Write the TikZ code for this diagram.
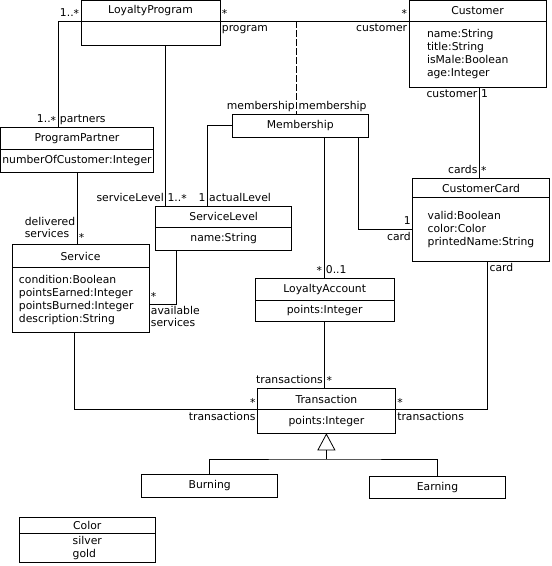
\documentclass[tikz,border=0pt]{standalone}
\usepackage{fontspec}
\setmainfont{DejaVu Sans}
\usetikzlibrary{positioning,arrows.meta}
\newcommand\mstar{\raisebox{-1.5pt}{*}}
\begin{document}
\begin{tikzpicture}[x=1pt,y=-1pt,line width=0.8pt,font=\fontsize{10.8}{13}\selectfont,
cls/.style={draw,outer sep=0pt,inner sep=0pt},
attr/.style={cls,align=left},
role/.style={inner sep=1.5pt,text height=9pt,text depth=3pt},
roles/.style={inner sep=1.5pt,align=left,font=\fontsize{10.8}{12}\selectfont}]
\useasboundingbox (0,0) rectangle (552,566);

\node[cls,minimum width=139pt,minimum height=20.5pt] (lph) at (150.5,10.75) {LoyaltyProgram};
\node[cls,minimum width=139pt,minimum height=24pt,below=0pt of lph] (lpb) {};
\node[cls,minimum width=137pt,minimum height=20.5pt] (cuh) at (477.5,10.75) {Customer};
\node[attr,inner xsep=18pt,text width=101pt,minimum height=66pt,below=0pt of cuh] (cub) {name:String\\title:String\\isMale:Boolean\\age:Integer};
\node[cls,minimum width=153pt,minimum height=22pt] (pph) at (77,138.5) {ProgramPartner};
\node[cls,minimum width=153pt,minimum height=23pt,below=0pt of pph] (ppb) {numberOfCustomer:Integer};
\node[cls,minimum width=136pt,minimum height=23pt] (me) at (300.3,125.8) {Membership};
\node[cls,minimum width=136pt,minimum height=21.7pt] (slh) at (223.7,216.85) {ServiceLevel};
\node[cls,minimum width=136pt,minimum height=22.3pt,below=0pt of slh] (slb) {name:String};
\node[cls,minimum width=136.6pt,minimum height=19.4pt] (cch) at (481,188) {CustomerCard};
\node[attr,minimum width=136.6pt,minimum height=63.3pt,below=0pt of cch] (ccb) {valid:Boolean\\color:Color\\printedName:String};
\node[cls,minimum width=137pt,minimum height=22.6pt] (seh) at (80.5,256) {Service};
\node[attr,inner xsep=7pt,text width=123pt,minimum height=65pt,below=0pt of seh] (seb) {condition:Boolean\\pointsEarned:Integer\\pointsBurned:Integer\\description:String};
\node[cls,minimum width=139.3pt,minimum height=21.7pt] (lah) at (324.7,289.15) {LoyaltyAccount};
\node[cls,minimum width=139.3pt,minimum height=21.7pt,below=0pt of lah] (lab) {points:Integer};
\node[cls,minimum width=138pt,minimum height=21.4pt] (trh) at (326.4,399) {Transaction};
\node[cls,minimum width=138pt,minimum height=23.6pt,below=0pt of trh] (trb) {points:Integer};
\node[cls,minimum width=136pt,minimum height=23pt] (bu) at (209.7,485.8) {Burning};
\node[cls,minimum width=136.2pt,minimum height=21.7pt] (ea) at (437.5,487.15) {Earning};
\node[cls,minimum width=136pt,minimum height=16pt] (coh) at (87.3,525.3) {Color};
\node[attr,minimum width=136pt,minimum height=29pt,below=0pt of coh] (cob) {silver\\gold};

\coordinate (mlink) at (296.7,21);
\coordinate (lpsl) at ([xshift=84.7pt]lpb.south west);
\coordinate (slse) at ([xshift=20.6pt]slb.south west);
\coordinate (mela) at ([xshift=23.7pt]me.south);
\coordinate (cucc) at ([xshift=1.8pt]cub.south);
\coordinate (gen) at ([yshift=-25.7pt]trb.south);

\draw (lph.south east)--(cuh.south west) node[role,pos=0,above right]{\mstar} node[role,pos=0,below right]{program} node[role,pos=1,above left]{\mstar} node[role,pos=1,below left]{customer};
\draw[dash pattern=on 7pt off 2pt] (mlink)--(mlink |- me.north) node[role,pos=1,above left]{membership} node[role,pos=1,above right]{membership};
\draw (lph.south west)-|([xshift=57.5pt]pph.north west) node[role,pos=0,above left]{1..\mstar} node[role,pos=1,above left]{1..\mstar} node[role,pos=1,above right]{partners};
\draw (lpsl)--(lpsl |- slh.north) node[role,pos=1,above left]{serviceLevel} node[role,pos=1,above right]{1..\mstar};
\draw (me.west)-|([xshift=51.6pt]slh.north west) node[role,pos=1,above left]{1} node[role,pos=1,above right]{actualLevel};
\draw (ppb.south)--(ppb.south |- seh.north) node[roles,pos=1,above left,yshift=5pt]{delivered\\services} node[role,pos=1,above right]{\mstar};
\draw (slse)|-([yshift=-37pt]seb.north east) node[role,pos=1,above right]{\mstar} node[roles,pos=1,below right]{available\\services};
\draw ([xshift=-6.5pt]seb.south)|-(trh.south west) node[role,pos=1,above left]{\mstar} node[role,pos=1,below left]{transactions};
\draw (lab.south)--(lab.south |- trh.north) node[role,pos=1,above left]{transactions} node[role,pos=1,above right]{\mstar};
\draw (mela)--(mela |- lah.north) node[role,pos=1,above left]{\mstar} node[role,pos=1,above right]{0..1};
\draw ([xshift=58pt]me.south)|-(ccb.west) node[role,pos=1,above left]{1} node[role,pos=1,below left]{card};
\draw (cucc)--(cucc |- cch.north) node[role,pos=0,below left]{customer} node[role,pos=0,below right]{1} node[role,pos=1,above left]{cards} node[role,pos=1,above right]{\mstar};
\draw ([xshift=6.7pt]ccb.south)|-(trh.south east) node[role,pos=0,below right]{card} node[role,pos=1,above right]{\mstar} node[role,pos=1,below right]{transactions};
\draw[-{Triangle[open,length=17pt,width=18pt]}] (gen)--(trb.south);
\draw (bu.north)|-(gen)-|(ea.north);
\end{tikzpicture}
\end{document}
